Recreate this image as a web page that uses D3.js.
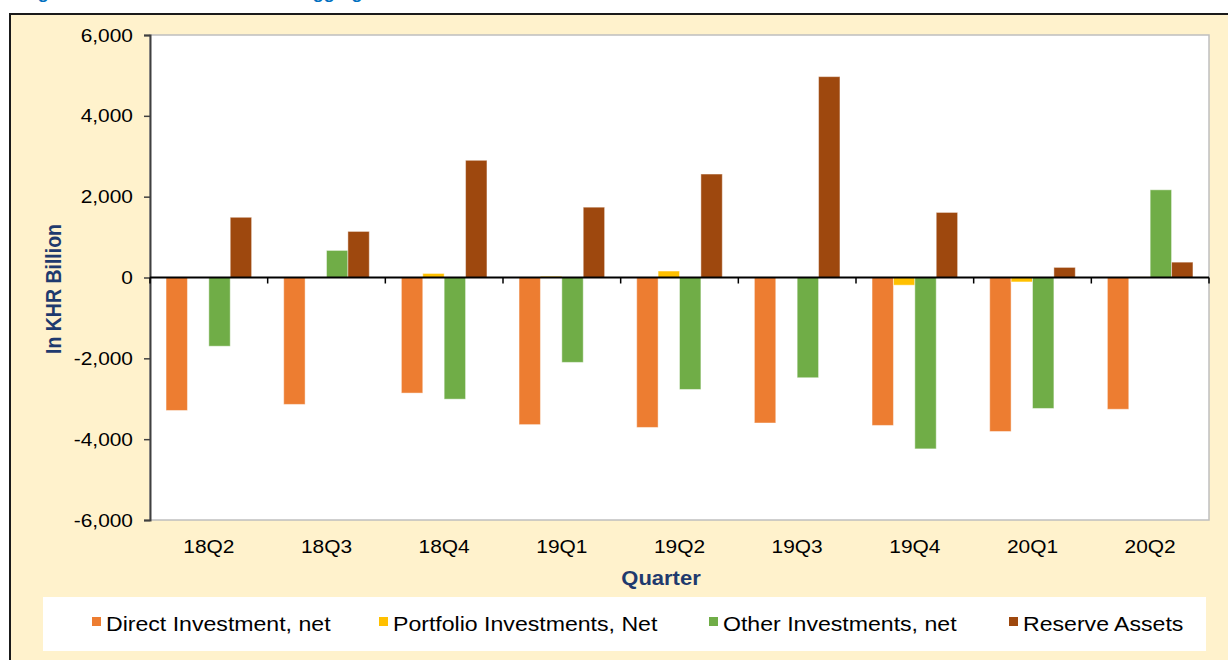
<!DOCTYPE html>
<html>
<head>
<meta charset="utf-8">
<script src="https://cdn.jsdelivr.net/npm/d3@7"></script>
<style>
  html, body { margin: 0; padding: 0; background: #ffffff; }
  svg { display: block; font-family: "Liberation Sans", Arial, sans-serif; }
</style>
</head>
<body>
<svg id="chart" width="1228" height="660"></svg>
<script>
// ---- Data ----
const categories = ["18Q2", "18Q3", "18Q4", "19Q1", "19Q2", "19Q3", "19Q4", "20Q1", "20Q2"];
const seriesNames = ["Direct Investment, net", "Portfolio Investments, Net", "Other Investments, net", "Reserve Assets"];
const directInvestment = [-3290, -3140, -2860, -3640, -3710, -3600, -3660, -3810, -3260];
const portfolioInvestments = [0, 0, 100, 30, 160, 0, -190, -110, 15];
const otherInvestments = [-1700, 670, -3010, -2100, -2770, -2480, -4240, -3240, 2170];
const reserveAssets = [1490, 1140, 2900, 1740, 2560, 4970, 1610, 250, 380];
const seriesColors = ["#ED7D31", "#FFC000", "#70AD47", "#9E480E"];
const yTicks = [-6000, -4000, -2000, 0, 2000, 4000, 6000];
const titleText = "Figure 7: Financial Account – Disaggregated";

const seriesValues = [directInvestment, portfolioInvestments, otherInvestments, reserveAssets];

const svg = d3.select("#chart");
const plot = { left: 150, right: 1209, top: 35, bottom: 520 };
const SX = 1.1; // horizontal text stretch of the original

// cut-off title at the very top (only its descenders show, as in the original)
svg.append("text")
  .attr("transform", "translate(22,-1) scale(1.05,1)")
  .attr("fill", "#0070C0").attr("font-weight", "bold").attr("font-size", 17)
  .text(titleText);

// outer frame
svg.append("rect")
  .attr("x", 10).attr("y", 14).attr("width", 1240).attr("height", 660)
  .attr("fill", "#FFF2CC").attr("stroke", "#1a1a1a").attr("stroke-width", 2);

// plot area
svg.append("rect")
  .attr("x", plot.left).attr("y", plot.top)
  .attr("width", plot.right - plot.left).attr("height", plot.bottom - plot.top)
  .attr("fill", "#ffffff").attr("stroke", "#BFBFBF").attr("stroke-width", 1.5);

const x = d3.scaleBand().domain(categories).range([plot.left, plot.right]).paddingInner(0).paddingOuter(0);
const barW = x.bandwidth() / 5.5;
const xs = d3.scaleBand().domain(d3.range(seriesNames.length))
  .range([0.75 * barW, 0.75 * barW + 4 * barW]).padding(0);
const y = d3.scaleLinear().domain([-6000, 6000]).range([plot.bottom, plot.top]);

// bars
seriesValues.forEach((vals, si) => {
  svg.append("g").selectAll("rect")
    .data(vals.map((v, i) => ({ c: categories[i], v })))
    .join("rect")
    .attr("x", d => x(d.c) + xs(si))
    .attr("width", xs.bandwidth())
    .attr("y", d => y(Math.max(0, d.v)))
    .attr("height", d => Math.abs(y(d.v) - y(0)))
    .attr("fill", seriesColors[si])
    .attr("stroke", "rgba(255,255,255,0.45)")
    .attr("stroke-width", 1);
});

// y axis
const fmt = d3.format(",d");
const yAxis = d3.axisLeft(y).tickValues(yTicks).tickSize(6).tickPadding(10)
  .tickFormat(d => fmt(d).replace("\u2212", "-"));
const gy = svg.append("g").attr("transform", `translate(${plot.left},0)`).call(yAxis);
gy.select(".domain").attr("stroke", "#404040").attr("stroke-width", 2);
gy.selectAll(".tick line").attr("stroke", "#404040").attr("stroke-width", 1.5);
gy.selectAll(".tick text").attr("font-size", 19).attr("fill", "#000")
  .attr("font-family", "Liberation Sans, Arial, sans-serif")
  .each(function () {
    const t = d3.select(this);
    const xx = +t.attr("x");
    t.attr("x", null).attr("transform", `translate(${xx - 1},0) scale(${SX},1)`);
  });

// zero axis line with category boundary ticks
const x0 = svg.append("g").attr("transform", `translate(0,${y(0)})`);
x0.append("line").attr("x1", plot.left).attr("x2", plot.right).attr("y1", 0).attr("y2", 0)
  .attr("stroke", "#000").attr("stroke-width", 2);
x0.selectAll("line.tk").data(categories.concat(["_end"])).join("line").attr("class", "tk")
  .attr("x1", (d, i) => i < categories.length ? x(d) : plot.right)
  .attr("x2", (d, i) => i < categories.length ? x(d) : plot.right)
  .attr("y1", 0).attr("y2", 6).attr("stroke", "#000").attr("stroke-width", 1.5);

// category labels
svg.append("g").selectAll("text").data(categories).join("text")
  .attr("transform", d => `translate(${x(d) + x.bandwidth() / 2},553) scale(${SX},1)`)
  .attr("text-anchor", "middle").attr("font-size", 19).attr("fill", "#000")
  .text(d => d);

// axis titles
svg.append("text")
  .attr("transform", `translate(661,585) scale(${SX},1)`)
  .attr("text-anchor", "middle").attr("font-weight", "bold").attr("font-size", 20)
  .attr("fill", "#1F3A6E").text("Quarter");

svg.append("text")
  .attr("transform", `translate(61,289) rotate(-90) scale(1,${SX})`)
  .attr("text-anchor", "middle").attr("font-weight", "bold").attr("font-size", 19.5)
  .attr("fill", "#1F3A6E").text("In KHR Billion");

// legend
svg.append("rect").attr("x", 43).attr("y", 597).attr("width", 1163).attr("height", 54)
  .attr("fill", "#ffffff");
const legendX = [92, 379, 709, 1009];
const lg = svg.append("g").selectAll("g").data(seriesNames).join("g")
  .attr("transform", (d, i) => `translate(${legendX[i]},0)`);
lg.append("rect").attr("x", 0).attr("y", 617).attr("width", 9).attr("height", 9)
  .attr("fill", (d, i) => seriesColors[i]);
lg.append("text").attr("transform", `translate(14,631) scale(${SX},1)`)
  .attr("font-size", 21).attr("fill", "#000").text(d => d);
</script>
</body>
</html>
